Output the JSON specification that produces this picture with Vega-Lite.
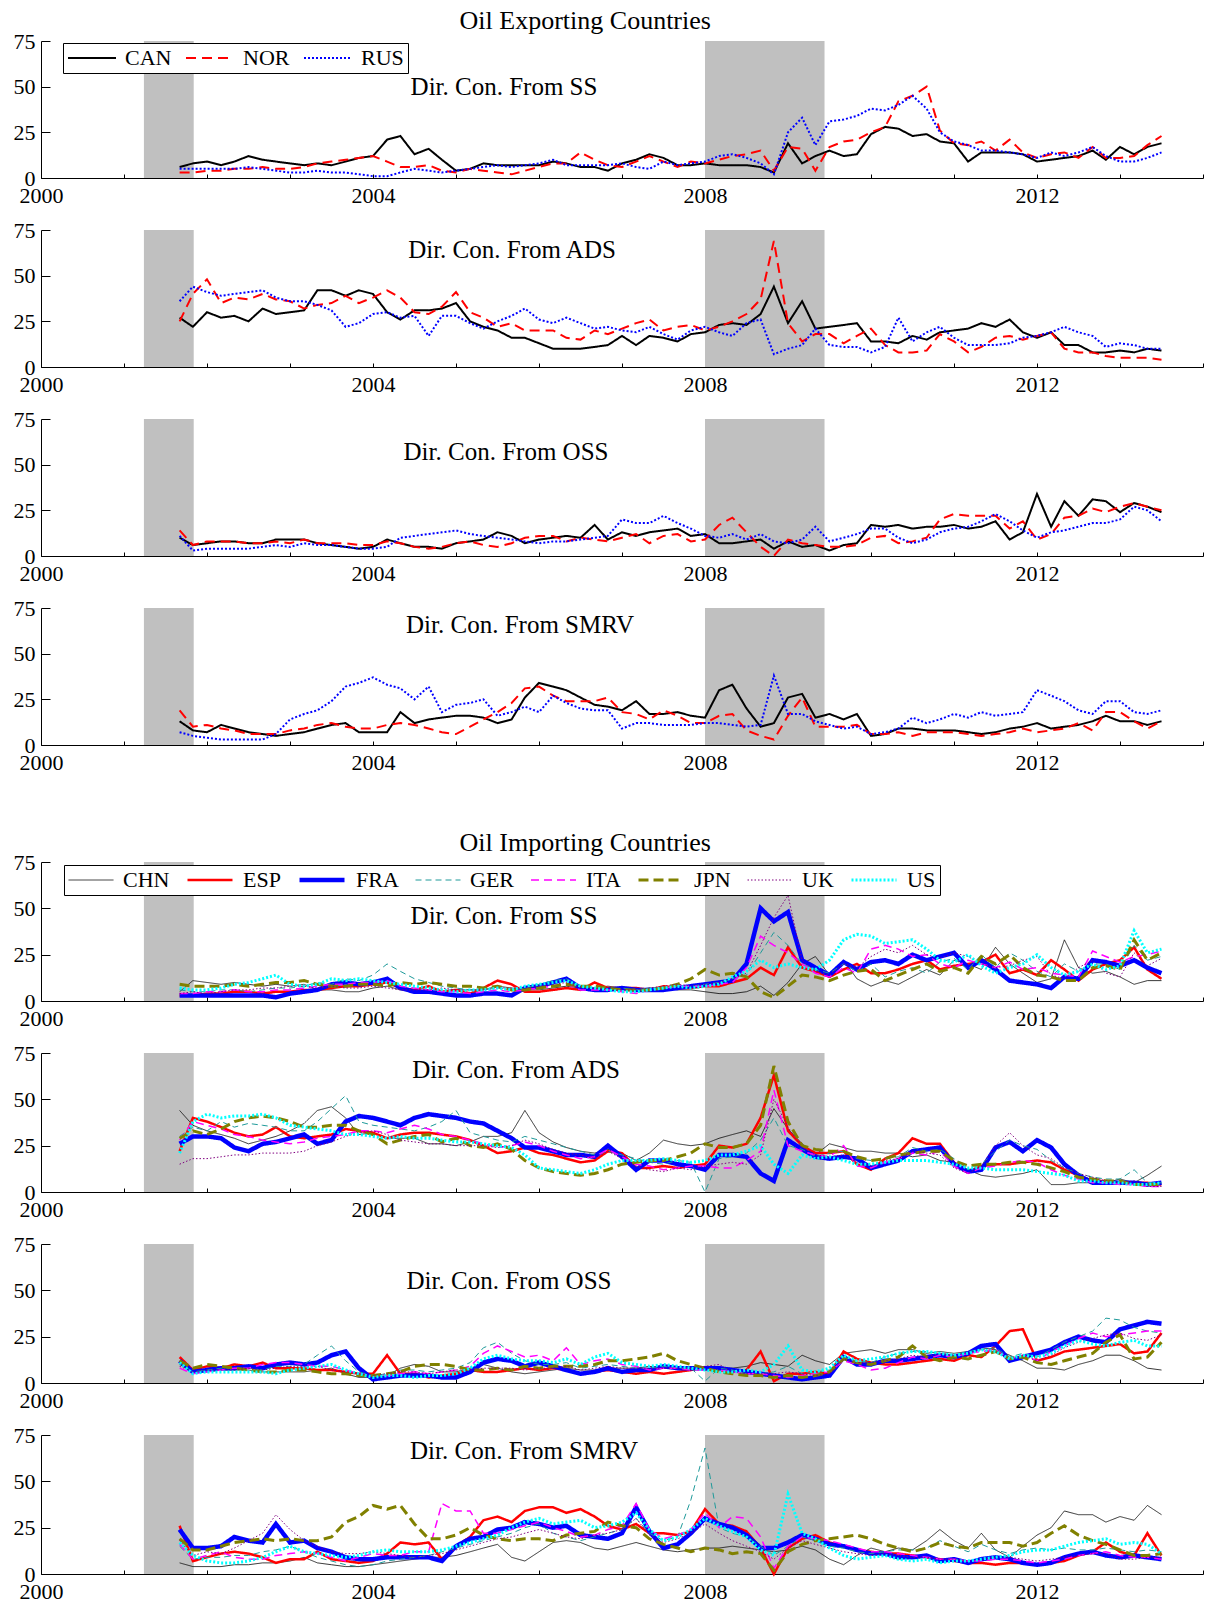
{
"$schema": "https://vega.github.io/schema/vega-lite/v6.json",
"padding": {"left": 13, "top": 8, "right": 2, "bottom": 4},
"config": {
 "font": "Liberation Serif",
 "view": {"stroke": null},
 "axis": {"grid": false, "title": null, "domainColor": "black", "tickColor": "black", "labelColor": "black", "labelFont": "Liberation Serif", "labelFontSize": 22, "domainWidth": 1, "tickWidth": 1, "labelOverlap": false},
 "axisX": {"tickSize": -4, "labelPadding": 11, "labelFlush": false},
 "axisY": {"tickSize": -9, "labelPadding": 15},
 "title": {"font": "Liberation Serif", "fontSize": 25, "fontWeight": "normal", "color": "black"},
 "legend": {"labelFont": "Liberation Serif", "labelColor": "black"}
},
"datasets": {
 "rec": [{"b": 2001.24, "e": 2001.84}, {"b": 2008.0, "e": 2009.44}],
 "eSS": [
{"t":2001.67,"CAN":6,"NOR":3,"RUS":5},{"t":2001.83,"CAN":8,"NOR":3,"RUS":5},{"t":2002,"CAN":9,"NOR":4,"RUS":5},{"t":2002.17,"CAN":7,"NOR":4,"RUS":5},{"t":2002.33,"CAN":9,"NOR":5,"RUS":5},{"t":2002.5,"CAN":12,"NOR":5,"RUS":6},{"t":2002.67,"CAN":10,"NOR":6,"RUS":5},{"t":2002.83,"CAN":9,"NOR":5,"RUS":4},{"t":2003,"CAN":8,"NOR":5,"RUS":3},{"t":2003.17,"CAN":7,"NOR":6,"RUS":3},{"t":2003.33,"CAN":8,"NOR":8,"RUS":4},{"t":2003.5,"CAN":7,"NOR":9,"RUS":3},{"t":2003.67,"CAN":9,"NOR":10,"RUS":3},{"t":2003.83,"CAN":11,"NOR":11,"RUS":2},{"t":2004,"CAN":12,"NOR":12,"RUS":1},{"t":2004.17,"CAN":21,"NOR":9,"RUS":1},{"t":2004.33,"CAN":23,"NOR":6,"RUS":3},{"t":2004.5,"CAN":13,"NOR":6,"RUS":5},{"t":2004.67,"CAN":16,"NOR":7,"RUS":4},{"t":2004.83,"CAN":10,"NOR":4,"RUS":3},{"t":2005,"CAN":4,"NOR":3,"RUS":4},{"t":2005.17,"CAN":5,"NOR":5,"RUS":5},{"t":2005.33,"CAN":8,"NOR":4,"RUS":6},{"t":2005.5,"CAN":7,"NOR":3,"RUS":7},{"t":2005.67,"CAN":7,"NOR":2,"RUS":6},{"t":2005.83,"CAN":7,"NOR":4,"RUS":7},{"t":2006,"CAN":7,"NOR":6,"RUS":8},{"t":2006.17,"CAN":9,"NOR":8,"RUS":10},{"t":2006.33,"CAN":8,"NOR":8,"RUS":7},{"t":2006.5,"CAN":6,"NOR":14,"RUS":7},{"t":2006.67,"CAN":6,"NOR":10,"RUS":7},{"t":2006.83,"CAN":4,"NOR":7,"RUS":7},{"t":2007,"CAN":8,"NOR":6,"RUS":8},{"t":2007.17,"CAN":10,"NOR":9,"RUS":6},{"t":2007.33,"CAN":13,"NOR":12,"RUS":5},{"t":2007.5,"CAN":11,"NOR":9,"RUS":9},{"t":2007.67,"CAN":7,"NOR":6,"RUS":7},{"t":2007.83,"CAN":7,"NOR":9,"RUS":8},{"t":2008,"CAN":8,"NOR":8,"RUS":9},{"t":2008.17,"CAN":7,"NOR":10,"RUS":12},{"t":2008.33,"CAN":7,"NOR":12,"RUS":13},{"t":2008.5,"CAN":7,"NOR":13,"RUS":11},{"t":2008.67,"CAN":6,"NOR":15,"RUS":8},{"t":2008.83,"CAN":3,"NOR":4,"RUS":2},{"t":2009,"CAN":19,"NOR":17,"RUS":25},{"t":2009.17,"CAN":8,"NOR":16,"RUS":33},{"t":2009.33,"CAN":12,"NOR":4,"RUS":18},{"t":2009.5,"CAN":15,"NOR":17,"RUS":31},{"t":2009.67,"CAN":12,"NOR":20,"RUS":32},{"t":2009.83,"CAN":13,"NOR":21,"RUS":34},{"t":2010,"CAN":24,"NOR":25,"RUS":38},{"t":2010.17,"CAN":28,"NOR":28,"RUS":37},{"t":2010.33,"CAN":27,"NOR":42,"RUS":40},{"t":2010.5,"CAN":23,"NOR":45,"RUS":45},{"t":2010.67,"CAN":24,"NOR":50,"RUS":38},{"t":2010.83,"CAN":20,"NOR":26,"RUS":25},{"t":2011,"CAN":19,"NOR":19,"RUS":20},{"t":2011.17,"CAN":9,"NOR":18,"RUS":18},{"t":2011.33,"CAN":14,"NOR":20,"RUS":15},{"t":2011.5,"CAN":14,"NOR":15,"RUS":15},{"t":2011.67,"CAN":14,"NOR":21,"RUS":14},{"t":2011.83,"CAN":13,"NOR":14,"RUS":13},{"t":2012,"CAN":9,"NOR":11,"RUS":11},{"t":2012.17,"CAN":10,"NOR":13,"RUS":14},{"t":2012.33,"CAN":11,"NOR":14,"RUS":12},{"t":2012.5,"CAN":12,"NOR":11,"RUS":14},{"t":2012.67,"CAN":15,"NOR":17,"RUS":17},{"t":2012.83,"CAN":10,"NOR":11,"RUS":12},{"t":2013,"CAN":17,"NOR":11,"RUS":9},{"t":2013.17,"CAN":13,"NOR":12,"RUS":9},{"t":2013.33,"CAN":17,"NOR":18,"RUS":11},{"t":2013.5,"CAN":19,"NOR":23,"RUS":14}
 ],
 "eADS": [
{"t":2001.67,"CAN":27,"NOR":25,"RUS":36},{"t":2001.83,"CAN":22,"NOR":40,"RUS":44},{"t":2002,"CAN":30,"NOR":48,"RUS":41},{"t":2002.17,"CAN":27,"NOR":35,"RUS":39},{"t":2002.33,"CAN":28,"NOR":38,"RUS":40},{"t":2002.5,"CAN":25,"NOR":37,"RUS":41},{"t":2002.67,"CAN":32,"NOR":40,"RUS":42},{"t":2002.83,"CAN":29,"NOR":37,"RUS":38},{"t":2003,"CAN":30,"NOR":36,"RUS":36},{"t":2003.17,"CAN":31,"NOR":32,"RUS":36},{"t":2003.33,"CAN":42,"NOR":34,"RUS":34},{"t":2003.5,"CAN":42,"NOR":35,"RUS":31},{"t":2003.67,"CAN":39,"NOR":39,"RUS":22},{"t":2003.83,"CAN":42,"NOR":35,"RUS":24},{"t":2004,"CAN":40,"NOR":38,"RUS":29},{"t":2004.17,"CAN":30,"NOR":42,"RUS":30},{"t":2004.33,"CAN":26,"NOR":38,"RUS":27},{"t":2004.5,"CAN":31,"NOR":30,"RUS":28},{"t":2004.67,"CAN":31,"NOR":29,"RUS":17},{"t":2004.83,"CAN":32,"NOR":33,"RUS":28},{"t":2005,"CAN":35,"NOR":41,"RUS":28},{"t":2005.17,"CAN":25,"NOR":30,"RUS":24},{"t":2005.33,"CAN":22,"NOR":27,"RUS":21},{"t":2005.5,"CAN":20,"NOR":22,"RUS":25},{"t":2005.67,"CAN":16,"NOR":24,"RUS":28},{"t":2005.83,"CAN":16,"NOR":20,"RUS":32},{"t":2006,"CAN":13,"NOR":20,"RUS":26},{"t":2006.17,"CAN":10,"NOR":20,"RUS":24},{"t":2006.33,"CAN":10,"NOR":16,"RUS":27},{"t":2006.5,"CAN":10,"NOR":15,"RUS":24},{"t":2006.67,"CAN":11,"NOR":20,"RUS":21},{"t":2006.83,"CAN":12,"NOR":18,"RUS":22},{"t":2007,"CAN":17,"NOR":21,"RUS":20},{"t":2007.17,"CAN":12,"NOR":24,"RUS":19},{"t":2007.33,"CAN":17,"NOR":26,"RUS":22},{"t":2007.5,"CAN":16,"NOR":20,"RUS":18},{"t":2007.67,"CAN":14,"NOR":22,"RUS":15},{"t":2007.83,"CAN":18,"NOR":23,"RUS":20},{"t":2008,"CAN":19,"NOR":20,"RUS":22},{"t":2008.17,"CAN":23,"NOR":22,"RUS":19},{"t":2008.33,"CAN":24,"NOR":25,"RUS":17},{"t":2008.5,"CAN":23,"NOR":29,"RUS":24},{"t":2008.67,"CAN":29,"NOR":37,"RUS":26},{"t":2008.83,"CAN":44,"NOR":69,"RUS":7},{"t":2009,"CAN":24,"NOR":24,"RUS":10},{"t":2009.17,"CAN":36,"NOR":14,"RUS":12},{"t":2009.33,"CAN":21,"NOR":18,"RUS":21},{"t":2009.5,"CAN":22,"NOR":18,"RUS":12},{"t":2009.67,"CAN":23,"NOR":13,"RUS":11},{"t":2009.83,"CAN":24,"NOR":17,"RUS":11},{"t":2010,"CAN":14,"NOR":21,"RUS":8},{"t":2010.17,"CAN":14,"NOR":12,"RUS":11},{"t":2010.33,"CAN":13,"NOR":8,"RUS":27},{"t":2010.5,"CAN":17,"NOR":8,"RUS":14},{"t":2010.67,"CAN":15,"NOR":9,"RUS":19},{"t":2010.83,"CAN":19,"NOR":18,"RUS":22},{"t":2011,"CAN":20,"NOR":14,"RUS":16},{"t":2011.17,"CAN":21,"NOR":8,"RUS":12},{"t":2011.33,"CAN":24,"NOR":11,"RUS":12},{"t":2011.5,"CAN":22,"NOR":16,"RUS":12},{"t":2011.67,"CAN":26,"NOR":17,"RUS":13},{"t":2011.83,"CAN":19,"NOR":15,"RUS":16},{"t":2012,"CAN":16,"NOR":17,"RUS":17},{"t":2012.17,"CAN":19,"NOR":19,"RUS":19},{"t":2012.33,"CAN":12,"NOR":10,"RUS":22},{"t":2012.5,"CAN":12,"NOR":8,"RUS":19},{"t":2012.67,"CAN":8,"NOR":8,"RUS":17},{"t":2012.83,"CAN":8,"NOR":6,"RUS":11},{"t":2013,"CAN":9,"NOR":5,"RUS":13},{"t":2013.17,"CAN":8,"NOR":5,"RUS":12},{"t":2013.33,"CAN":10,"NOR":5,"RUS":10},{"t":2013.5,"CAN":9,"NOR":4,"RUS":10}
 ],
 "eOSS": [
{"t":2001.67,"CAN":10,"NOR":14,"RUS":11},{"t":2001.83,"CAN":6,"NOR":6,"RUS":3},{"t":2002,"CAN":7,"NOR":8,"RUS":4},{"t":2002.17,"CAN":8,"NOR":8,"RUS":4},{"t":2002.33,"CAN":8,"NOR":8,"RUS":4},{"t":2002.5,"CAN":7,"NOR":7,"RUS":4},{"t":2002.67,"CAN":7,"NOR":7,"RUS":5},{"t":2002.83,"CAN":9,"NOR":8,"RUS":6},{"t":2003,"CAN":9,"NOR":7,"RUS":5},{"t":2003.17,"CAN":9,"NOR":9,"RUS":7},{"t":2003.33,"CAN":7,"NOR":7,"RUS":6},{"t":2003.5,"CAN":6,"NOR":7,"RUS":6},{"t":2003.67,"CAN":5,"NOR":7,"RUS":5},{"t":2003.83,"CAN":4,"NOR":6,"RUS":4},{"t":2004,"CAN":5,"NOR":6,"RUS":4},{"t":2004.17,"CAN":9,"NOR":8,"RUS":5},{"t":2004.33,"CAN":7,"NOR":7,"RUS":10},{"t":2004.5,"CAN":5,"NOR":5,"RUS":11},{"t":2004.67,"CAN":5,"NOR":4,"RUS":12},{"t":2004.83,"CAN":4,"NOR":5,"RUS":13},{"t":2005,"CAN":7,"NOR":7,"RUS":14},{"t":2005.17,"CAN":8,"NOR":8,"RUS":12},{"t":2005.33,"CAN":9,"NOR":6,"RUS":11},{"t":2005.5,"CAN":13,"NOR":5,"RUS":10},{"t":2005.67,"CAN":11,"NOR":7,"RUS":9},{"t":2005.83,"CAN":7,"NOR":10,"RUS":8},{"t":2006,"CAN":9,"NOR":11,"RUS":7},{"t":2006.17,"CAN":10,"NOR":11,"RUS":8},{"t":2006.33,"CAN":11,"NOR":8,"RUS":8},{"t":2006.5,"CAN":10,"NOR":10,"RUS":9},{"t":2006.67,"CAN":17,"NOR":9,"RUS":10},{"t":2006.83,"CAN":9,"NOR":8,"RUS":11},{"t":2007,"CAN":13,"NOR":10,"RUS":20},{"t":2007.17,"CAN":11,"NOR":12,"RUS":18},{"t":2007.33,"CAN":13,"NOR":7,"RUS":18},{"t":2007.5,"CAN":14,"NOR":11,"RUS":22},{"t":2007.67,"CAN":15,"NOR":12,"RUS":18},{"t":2007.83,"CAN":11,"NOR":8,"RUS":15},{"t":2008,"CAN":12,"NOR":9,"RUS":11},{"t":2008.17,"CAN":7,"NOR":17,"RUS":10},{"t":2008.33,"CAN":7,"NOR":21,"RUS":12},{"t":2008.5,"CAN":8,"NOR":13,"RUS":9},{"t":2008.67,"CAN":9,"NOR":5,"RUS":12},{"t":2008.83,"CAN":4,"NOR":0,"RUS":8},{"t":2009,"CAN":8,"NOR":9,"RUS":7},{"t":2009.17,"CAN":5,"NOR":7,"RUS":9},{"t":2009.33,"CAN":6,"NOR":6,"RUS":16},{"t":2009.5,"CAN":3,"NOR":5,"RUS":8},{"t":2009.67,"CAN":6,"NOR":5,"RUS":10},{"t":2009.83,"CAN":7,"NOR":6,"RUS":12},{"t":2010,"CAN":17,"NOR":10,"RUS":15},{"t":2010.17,"CAN":16,"NOR":11,"RUS":15},{"t":2010.33,"CAN":17,"NOR":7,"RUS":10},{"t":2010.5,"CAN":15,"NOR":8,"RUS":7},{"t":2010.67,"CAN":16,"NOR":10,"RUS":9},{"t":2010.83,"CAN":16,"NOR":20,"RUS":13},{"t":2011,"CAN":17,"NOR":23,"RUS":15},{"t":2011.17,"CAN":15,"NOR":22,"RUS":16},{"t":2011.33,"CAN":16,"NOR":22,"RUS":19},{"t":2011.5,"CAN":19,"NOR":22,"RUS":23},{"t":2011.67,"CAN":9,"NOR":15,"RUS":19},{"t":2011.83,"CAN":13,"NOR":19,"RUS":14},{"t":2012,"CAN":34,"NOR":9,"RUS":10},{"t":2012.17,"CAN":16,"NOR":12,"RUS":13},{"t":2012.33,"CAN":30,"NOR":21,"RUS":14},{"t":2012.5,"CAN":22,"NOR":22,"RUS":16},{"t":2012.67,"CAN":31,"NOR":26,"RUS":18},{"t":2012.83,"CAN":30,"NOR":24,"RUS":18},{"t":2013,"CAN":24,"NOR":27,"RUS":20},{"t":2013.17,"CAN":29,"NOR":29,"RUS":27},{"t":2013.33,"CAN":27,"NOR":27,"RUS":25},{"t":2013.5,"CAN":24,"NOR":25,"RUS":19}
 ],
 "eSMRV": [
{"t":2001.67,"CAN":13,"NOR":19,"RUS":7},{"t":2001.83,"CAN":8,"NOR":10,"RUS":5},{"t":2002,"CAN":7,"NOR":11,"RUS":4},{"t":2002.17,"CAN":11,"NOR":9,"RUS":3},{"t":2002.33,"CAN":9,"NOR":8,"RUS":3},{"t":2002.5,"CAN":7,"NOR":6,"RUS":3},{"t":2002.67,"CAN":6,"NOR":6,"RUS":3},{"t":2002.83,"CAN":5,"NOR":6,"RUS":6},{"t":2003,"CAN":6,"NOR":8,"RUS":14},{"t":2003.17,"CAN":7,"NOR":9,"RUS":17},{"t":2003.33,"CAN":9,"NOR":11,"RUS":19},{"t":2003.5,"CAN":11,"NOR":12,"RUS":24},{"t":2003.67,"CAN":12,"NOR":10,"RUS":32},{"t":2003.83,"CAN":7,"NOR":9,"RUS":34},{"t":2004,"CAN":7,"NOR":9,"RUS":37},{"t":2004.17,"CAN":7,"NOR":11,"RUS":33},{"t":2004.33,"CAN":18,"NOR":12,"RUS":31},{"t":2004.5,"CAN":12,"NOR":11,"RUS":25},{"t":2004.67,"CAN":14,"NOR":9,"RUS":32},{"t":2004.83,"CAN":15,"NOR":7,"RUS":18},{"t":2005,"CAN":16,"NOR":6,"RUS":22},{"t":2005.17,"CAN":16,"NOR":10,"RUS":23},{"t":2005.33,"CAN":15,"NOR":14,"RUS":25},{"t":2005.5,"CAN":12,"NOR":18,"RUS":16},{"t":2005.67,"CAN":14,"NOR":23,"RUS":18},{"t":2005.83,"CAN":26,"NOR":31,"RUS":21},{"t":2006,"CAN":34,"NOR":32,"RUS":18},{"t":2006.17,"CAN":32,"NOR":27,"RUS":27},{"t":2006.33,"CAN":30,"NOR":24,"RUS":23},{"t":2006.5,"CAN":26,"NOR":24,"RUS":20},{"t":2006.67,"CAN":22,"NOR":24,"RUS":19},{"t":2006.83,"CAN":21,"NOR":26,"RUS":19},{"t":2007,"CAN":19,"NOR":18,"RUS":9},{"t":2007.17,"CAN":24,"NOR":17,"RUS":12},{"t":2007.33,"CAN":17,"NOR":14,"RUS":12},{"t":2007.5,"CAN":17,"NOR":19,"RUS":11},{"t":2007.67,"CAN":18,"NOR":16,"RUS":11},{"t":2007.83,"CAN":16,"NOR":12,"RUS":11},{"t":2008,"CAN":15,"NOR":12,"RUS":12},{"t":2008.17,"CAN":30,"NOR":16,"RUS":12},{"t":2008.33,"CAN":33,"NOR":17,"RUS":11},{"t":2008.5,"CAN":20,"NOR":8,"RUS":10},{"t":2008.67,"CAN":10,"NOR":5,"RUS":11},{"t":2008.83,"CAN":12,"NOR":3,"RUS":38},{"t":2009,"CAN":26,"NOR":16,"RUS":17},{"t":2009.17,"CAN":28,"NOR":26,"RUS":17},{"t":2009.33,"CAN":15,"NOR":10,"RUS":13},{"t":2009.5,"CAN":17,"NOR":10,"RUS":11},{"t":2009.67,"CAN":14,"NOR":10,"RUS":9},{"t":2009.83,"CAN":17,"NOR":11,"RUS":10},{"t":2010,"CAN":5,"NOR":6,"RUS":6},{"t":2010.17,"CAN":6,"NOR":6,"RUS":7},{"t":2010.33,"CAN":9,"NOR":7,"RUS":9},{"t":2010.5,"CAN":9,"NOR":5,"RUS":15},{"t":2010.67,"CAN":8,"NOR":7,"RUS":12},{"t":2010.83,"CAN":8,"NOR":7,"RUS":14},{"t":2011,"CAN":8,"NOR":7,"RUS":17},{"t":2011.17,"CAN":7,"NOR":6,"RUS":15},{"t":2011.33,"CAN":6,"NOR":5,"RUS":18},{"t":2011.5,"CAN":7,"NOR":6,"RUS":16},{"t":2011.67,"CAN":9,"NOR":7,"RUS":17},{"t":2011.83,"CAN":10,"NOR":9,"RUS":18},{"t":2012,"CAN":12,"NOR":7,"RUS":30},{"t":2012.17,"CAN":9,"NOR":8,"RUS":27},{"t":2012.33,"CAN":10,"NOR":9,"RUS":24},{"t":2012.5,"CAN":11,"NOR":12,"RUS":19},{"t":2012.67,"CAN":13,"NOR":8,"RUS":17},{"t":2012.83,"CAN":16,"NOR":18,"RUS":24},{"t":2013,"CAN":13,"NOR":18,"RUS":24},{"t":2013.17,"CAN":13,"NOR":13,"RUS":18},{"t":2013.33,"CAN":11,"NOR":9,"RUS":17},{"t":2013.5,"CAN":13,"NOR":13,"RUS":19}
 ],
 "iSS": [
{"t":2001.67,"CHN":5,"ESP":3,"FRA":3,"GER":6,"ITA":4,"JPN":9,"UK":4,"US":7},{"t":2001.83,"CHN":11,"ESP":3,"FRA":3,"GER":5,"ITA":4,"JPN":8,"UK":5,"US":6},{"t":2002,"CHN":10,"ESP":4,"FRA":3,"GER":5,"ITA":5,"JPN":8,"UK":4,"US":6},{"t":2002.17,"CHN":9,"ESP":4,"FRA":3,"GER":6,"ITA":5,"JPN":8,"UK":5,"US":7},{"t":2002.33,"CHN":10,"ESP":5,"FRA":3,"GER":6,"ITA":6,"JPN":9,"UK":6,"US":9},{"t":2002.5,"CHN":9,"ESP":5,"FRA":3,"GER":5,"ITA":5,"JPN":8,"UK":6,"US":10},{"t":2002.67,"CHN":8,"ESP":4,"FRA":3,"GER":6,"ITA":5,"JPN":9,"UK":7,"US":12},{"t":2002.83,"CHN":9,"ESP":5,"FRA":2,"GER":7,"ITA":6,"JPN":10,"UK":7,"US":14},{"t":2003,"CHN":8,"ESP":5,"FRA":4,"GER":7,"ITA":6,"JPN":10,"UK":8,"US":9},{"t":2003.17,"CHN":9,"ESP":6,"FRA":5,"GER":8,"ITA":7,"JPN":11,"UK":8,"US":8},{"t":2003.33,"CHN":6,"ESP":6,"FRA":6,"GER":10,"ITA":8,"JPN":9,"UK":7,"US":9},{"t":2003.5,"CHN":6,"ESP":7,"FRA":9,"GER":9,"ITA":9,"JPN":8,"UK":8,"US":12},{"t":2003.67,"CHN":5,"ESP":8,"FRA":10,"GER":12,"ITA":9,"JPN":8,"UK":7,"US":11},{"t":2003.83,"CHN":5,"ESP":8,"FRA":9,"GER":11,"ITA":10,"JPN":9,"UK":7,"US":12},{"t":2004,"CHN":7,"ESP":9,"FRA":10,"GER":14,"ITA":10,"JPN":9,"UK":8,"US":11},{"t":2004.17,"CHN":8,"ESP":10,"FRA":12,"GER":20,"ITA":11,"JPN":8,"UK":7,"US":10},{"t":2004.33,"CHN":6,"ESP":7,"FRA":7,"GER":16,"ITA":8,"JPN":10,"UK":6,"US":9},{"t":2004.5,"CHN":5,"ESP":6,"FRA":5,"GER":12,"ITA":7,"JPN":9,"UK":6,"US":8},{"t":2004.67,"CHN":5,"ESP":8,"FRA":5,"GER":10,"ITA":6,"JPN":10,"UK":6,"US":7},{"t":2004.83,"CHN":5,"ESP":5,"FRA":4,"GER":8,"ITA":5,"JPN":9,"UK":7,"US":6},{"t":2005,"CHN":6,"ESP":6,"FRA":3,"GER":7,"ITA":5,"JPN":8,"UK":6,"US":5},{"t":2005.17,"CHN":6,"ESP":4,"FRA":3,"GER":6,"ITA":4,"JPN":8,"UK":6,"US":6},{"t":2005.33,"CHN":6,"ESP":7,"FRA":4,"GER":6,"ITA":5,"JPN":7,"UK":6,"US":6},{"t":2005.5,"CHN":8,"ESP":11,"FRA":4,"GER":7,"ITA":6,"JPN":8,"UK":7,"US":7},{"t":2005.67,"CHN":7,"ESP":9,"FRA":3,"GER":6,"ITA":5,"JPN":6,"UK":7,"US":6},{"t":2005.83,"CHN":6,"ESP":5,"FRA":7,"GER":7,"ITA":6,"JPN":6,"UK":7,"US":8},{"t":2006,"CHN":6,"ESP":5,"FRA":8,"GER":9,"ITA":7,"JPN":7,"UK":8,"US":9},{"t":2006.17,"CHN":7,"ESP":6,"FRA":10,"GER":11,"ITA":8,"JPN":8,"UK":9,"US":10},{"t":2006.33,"CHN":8,"ESP":7,"FRA":12,"GER":12,"ITA":9,"JPN":9,"UK":10,"US":11},{"t":2006.5,"CHN":7,"ESP":6,"FRA":7,"GER":8,"ITA":6,"JPN":8,"UK":7,"US":8},{"t":2006.67,"CHN":7,"ESP":10,"FRA":6,"GER":7,"ITA":6,"JPN":8,"UK":7,"US":7},{"t":2006.83,"CHN":8,"ESP":7,"FRA":6,"GER":6,"ITA":6,"JPN":7,"UK":6,"US":6},{"t":2007,"CHN":7,"ESP":7,"FRA":7,"GER":7,"ITA":5,"JPN":6,"UK":6,"US":5},{"t":2007.17,"CHN":6,"ESP":7,"FRA":6,"GER":6,"ITA":4,"JPN":6,"UK":6,"US":5},{"t":2007.33,"CHN":7,"ESP":6,"FRA":6,"GER":7,"ITA":6,"JPN":6,"UK":7,"US":6},{"t":2007.5,"CHN":7,"ESP":8,"FRA":6,"GER":7,"ITA":7,"JPN":7,"UK":8,"US":7},{"t":2007.67,"CHN":6,"ESP":7,"FRA":7,"GER":8,"ITA":8,"JPN":9,"UK":9,"US":8},{"t":2007.83,"CHN":6,"ESP":7,"FRA":8,"GER":8,"ITA":8,"JPN":12,"UK":8,"US":7},{"t":2008,"CHN":5,"ESP":8,"FRA":9,"GER":9,"ITA":8,"JPN":17,"UK":9,"US":8},{"t":2008.17,"CHN":4,"ESP":8,"FRA":10,"GER":10,"ITA":9,"JPN":14,"UK":10,"US":9},{"t":2008.33,"CHN":4,"ESP":10,"FRA":11,"GER":12,"ITA":10,"JPN":15,"UK":12,"US":13},{"t":2008.5,"CHN":5,"ESP":12,"FRA":20,"GER":14,"ITA":18,"JPN":13,"UK":15,"US":16},{"t":2008.67,"CHN":8,"ESP":18,"FRA":50,"GER":26,"ITA":35,"JPN":5,"UK":30,"US":22},{"t":2008.83,"CHN":3,"ESP":14,"FRA":43,"GER":37,"ITA":30,"JPN":2,"UK":45,"US":18},{"t":2009,"CHN":10,"ESP":29,"FRA":48,"GER":30,"ITA":26,"JPN":8,"UK":57,"US":20},{"t":2009.17,"CHN":20,"ESP":18,"FRA":22,"GER":20,"ITA":20,"JPN":14,"UK":22,"US":18},{"t":2009.33,"CHN":24,"ESP":16,"FRA":18,"GER":17,"ITA":15,"JPN":13,"UK":16,"US":17},{"t":2009.5,"CHN":14,"ESP":13,"FRA":14,"GER":15,"ITA":13,"JPN":11,"UK":14,"US":22},{"t":2009.67,"CHN":22,"ESP":17,"FRA":21,"GER":20,"ITA":18,"JPN":14,"UK":20,"US":33},{"t":2009.83,"CHN":12,"ESP":20,"FRA":17,"GER":16,"ITA":15,"JPN":16,"UK":18,"US":36},{"t":2010,"CHN":8,"ESP":15,"FRA":21,"GER":20,"ITA":28,"JPN":17,"UK":24,"US":35},{"t":2010.17,"CHN":11,"ESP":15,"FRA":22,"GER":13,"ITA":30,"JPN":11,"UK":28,"US":31},{"t":2010.33,"CHN":9,"ESP":17,"FRA":20,"GER":16,"ITA":28,"JPN":14,"UK":26,"US":32},{"t":2010.5,"CHN":13,"ESP":20,"FRA":25,"GER":18,"ITA":24,"JPN":17,"UK":30,"US":33},{"t":2010.67,"CHN":17,"ESP":22,"FRA":22,"GER":15,"ITA":25,"JPN":20,"UK":25,"US":28},{"t":2010.83,"CHN":14,"ESP":17,"FRA":24,"GER":21,"ITA":20,"JPN":16,"UK":23,"US":22},{"t":2011,"CHN":22,"ESP":19,"FRA":26,"GER":23,"ITA":18,"JPN":18,"UK":26,"US":21},{"t":2011.17,"CHN":20,"ESP":20,"FRA":18,"GER":17,"ITA":22,"JPN":15,"UK":24,"US":25},{"t":2011.33,"CHN":17,"ESP":21,"FRA":22,"GER":25,"ITA":20,"JPN":24,"UK":20,"US":19},{"t":2011.5,"CHN":29,"ESP":25,"FRA":17,"GER":18,"ITA":18,"JPN":20,"UK":18,"US":15},{"t":2011.67,"CHN":20,"ESP":15,"FRA":11,"GER":26,"ITA":21,"JPN":25,"UK":19,"US":18},{"t":2011.83,"CHN":15,"ESP":17,"FRA":10,"GER":22,"ITA":17,"JPN":18,"UK":22,"US":20},{"t":2012,"CHN":10,"ESP":14,"FRA":9,"GER":16,"ITA":18,"JPN":14,"UK":24,"US":25},{"t":2012.17,"CHN":12,"ESP":22,"FRA":7,"GER":13,"ITA":15,"JPN":13,"UK":14,"US":18},{"t":2012.33,"CHN":33,"ESP":17,"FRA":13,"GER":20,"ITA":14,"JPN":11,"UK":12,"US":14},{"t":2012.5,"CHN":18,"ESP":11,"FRA":12,"GER":16,"ITA":13,"JPN":11,"UK":18,"US":16},{"t":2012.67,"CHN":15,"ESP":17,"FRA":22,"GER":20,"ITA":27,"JPN":18,"UK":22,"US":20},{"t":2012.83,"CHN":16,"ESP":20,"FRA":21,"GER":20,"ITA":24,"JPN":19,"UK":15,"US":17},{"t":2013,"CHN":13,"ESP":22,"FRA":19,"GER":17,"ITA":21,"JPN":17,"UK":13,"US":19},{"t":2013.17,"CHN":9,"ESP":29,"FRA":22,"GER":30,"ITA":24,"JPN":33,"UK":26,"US":38},{"t":2013.33,"CHN":11,"ESP":17,"FRA":18,"GER":22,"ITA":25,"JPN":22,"UK":19,"US":26},{"t":2013.5,"CHN":11,"ESP":12,"FRA":15,"GER":24,"ITA":27,"JPN":26,"UK":23,"US":28}
 ],
 "iADS": [
{"t":2001.67,"CHN":44,"ESP":22,"FRA":26,"GER":30,"ITA":28,"JPN":29,"UK":15,"US":21},{"t":2001.83,"CHN":36,"ESP":40,"FRA":30,"GER":35,"ITA":38,"JPN":33,"UK":18,"US":38},{"t":2002,"CHN":33,"ESP":38,"FRA":30,"GER":33,"ITA":36,"JPN":31,"UK":18,"US":42},{"t":2002.17,"CHN":31,"ESP":35,"FRA":29,"GER":38,"ITA":34,"JPN":34,"UK":19,"US":40},{"t":2002.33,"CHN":29,"ESP":32,"FRA":24,"GER":35,"ITA":31,"JPN":38,"UK":20,"US":41},{"t":2002.5,"CHN":26,"ESP":30,"FRA":22,"GER":37,"ITA":30,"JPN":40,"UK":20,"US":41},{"t":2002.67,"CHN":28,"ESP":31,"FRA":26,"GER":36,"ITA":28,"JPN":41,"UK":21,"US":42},{"t":2002.83,"CHN":30,"ESP":35,"FRA":27,"GER":35,"ITA":27,"JPN":40,"UK":21,"US":40},{"t":2003,"CHN":33,"ESP":30,"FRA":29,"GER":33,"ITA":26,"JPN":38,"UK":21,"US":36},{"t":2003.17,"CHN":37,"ESP":29,"FRA":31,"GER":33,"ITA":27,"JPN":35,"UK":22,"US":35},{"t":2003.33,"CHN":44,"ESP":30,"FRA":26,"GER":38,"ITA":29,"JPN":35,"UK":25,"US":34},{"t":2003.5,"CHN":46,"ESP":31,"FRA":28,"GER":45,"ITA":30,"JPN":36,"UK":27,"US":33},{"t":2003.67,"CHN":40,"ESP":34,"FRA":38,"GER":52,"ITA":31,"JPN":36,"UK":30,"US":31},{"t":2003.83,"CHN":31,"ESP":33,"FRA":41,"GER":38,"ITA":33,"JPN":33,"UK":32,"US":31},{"t":2004,"CHN":32,"ESP":32,"FRA":40,"GER":36,"ITA":33,"JPN":31,"UK":33,"US":30},{"t":2004.17,"CHN":29,"ESP":29,"FRA":38,"GER":35,"ITA":32,"JPN":26,"UK":31,"US":29},{"t":2004.33,"CHN":29,"ESP":31,"FRA":36,"GER":34,"ITA":34,"JPN":28,"UK":28,"US":30},{"t":2004.5,"CHN":29,"ESP":32,"FRA":40,"GER":33,"ITA":36,"JPN":30,"UK":27,"US":29},{"t":2004.67,"CHN":26,"ESP":32,"FRA":42,"GER":35,"ITA":34,"JPN":31,"UK":26,"US":29},{"t":2004.83,"CHN":26,"ESP":31,"FRA":41,"GER":38,"ITA":31,"JPN":27,"UK":26,"US":28},{"t":2005,"CHN":25,"ESP":30,"FRA":40,"GER":44,"ITA":30,"JPN":29,"UK":25,"US":27},{"t":2005.17,"CHN":27,"ESP":28,"FRA":38,"GER":32,"ITA":28,"JPN":25,"UK":25,"US":27},{"t":2005.33,"CHN":30,"ESP":25,"FRA":37,"GER":30,"ITA":26,"JPN":24,"UK":25,"US":26},{"t":2005.5,"CHN":30,"ESP":21,"FRA":33,"GER":28,"ITA":24,"JPN":26,"UK":24,"US":25},{"t":2005.67,"CHN":32,"ESP":22,"FRA":29,"GER":27,"ITA":25,"JPN":23,"UK":25,"US":24},{"t":2005.83,"CHN":44,"ESP":24,"FRA":24,"GER":30,"ITA":27,"JPN":17,"UK":28,"US":20},{"t":2006,"CHN":32,"ESP":21,"FRA":24,"GER":28,"ITA":25,"JPN":13,"UK":26,"US":13},{"t":2006.17,"CHN":27,"ESP":20,"FRA":22,"GER":26,"ITA":22,"JPN":11,"UK":23,"US":12},{"t":2006.33,"CHN":24,"ESP":18,"FRA":20,"GER":24,"ITA":20,"JPN":10,"UK":21,"US":11},{"t":2006.5,"CHN":22,"ESP":16,"FRA":20,"GER":22,"ITA":18,"JPN":9,"UK":20,"US":10},{"t":2006.67,"CHN":21,"ESP":17,"FRA":19,"GER":20,"ITA":19,"JPN":10,"UK":18,"US":12},{"t":2006.83,"CHN":23,"ESP":22,"FRA":25,"GER":22,"ITA":23,"JPN":12,"UK":22,"US":15},{"t":2007,"CHN":21,"ESP":21,"FRA":19,"GER":20,"ITA":19,"JPN":15,"UK":18,"US":17},{"t":2007.17,"CHN":17,"ESP":13,"FRA":12,"GER":18,"ITA":15,"JPN":16,"UK":14,"US":17},{"t":2007.33,"CHN":21,"ESP":13,"FRA":17,"GER":16,"ITA":14,"JPN":17,"UK":12,"US":17},{"t":2007.5,"CHN":28,"ESP":14,"FRA":17,"GER":15,"ITA":12,"JPN":17,"UK":11,"US":18},{"t":2007.67,"CHN":26,"ESP":13,"FRA":15,"GER":17,"ITA":13,"JPN":19,"UK":13,"US":17},{"t":2007.83,"CHN":25,"ESP":14,"FRA":14,"GER":16,"ITA":14,"JPN":21,"UK":12,"US":16},{"t":2008,"CHN":26,"ESP":15,"FRA":12,"GER":0,"ITA":14,"JPN":26,"UK":14,"US":17},{"t":2008.17,"CHN":29,"ESP":25,"FRA":20,"GER":18,"ITA":13,"JPN":24,"UK":15,"US":20},{"t":2008.33,"CHN":31,"ESP":24,"FRA":20,"GER":19,"ITA":13,"JPN":24,"UK":16,"US":20},{"t":2008.5,"CHN":33,"ESP":26,"FRA":19,"GER":21,"ITA":17,"JPN":26,"UK":15,"US":22},{"t":2008.67,"CHN":30,"ESP":40,"FRA":10,"GER":28,"ITA":22,"JPN":36,"UK":20,"US":25},{"t":2008.83,"CHN":45,"ESP":63,"FRA":6,"GER":40,"ITA":55,"JPN":68,"UK":50,"US":15},{"t":2009,"CHN":34,"ESP":33,"FRA":28,"GER":25,"ITA":25,"JPN":38,"UK":35,"US":10},{"t":2009.17,"CHN":26,"ESP":25,"FRA":23,"GER":23,"ITA":22,"JPN":25,"UK":24,"US":20},{"t":2009.33,"CHN":20,"ESP":21,"FRA":19,"GER":19,"ITA":20,"JPN":23,"UK":20,"US":18},{"t":2009.5,"CHN":26,"ESP":21,"FRA":18,"GER":21,"ITA":19,"JPN":22,"UK":19,"US":19},{"t":2009.67,"CHN":24,"ESP":22,"FRA":19,"GER":22,"ITA":25,"JPN":22,"UK":20,"US":17},{"t":2009.83,"CHN":22,"ESP":15,"FRA":18,"GER":18,"ITA":14,"JPN":19,"UK":16,"US":15},{"t":2010,"CHN":22,"ESP":12,"FRA":13,"GER":17,"ITA":13,"JPN":17,"UK":14,"US":15},{"t":2010.17,"CHN":21,"ESP":18,"FRA":15,"GER":18,"ITA":16,"JPN":18,"UK":17,"US":16},{"t":2010.33,"CHN":21,"ESP":21,"FRA":17,"GER":19,"ITA":18,"JPN":20,"UK":18,"US":17},{"t":2010.5,"CHN":19,"ESP":29,"FRA":22,"GER":24,"ITA":21,"JPN":21,"UK":22,"US":17},{"t":2010.67,"CHN":20,"ESP":26,"FRA":23,"GER":22,"ITA":20,"JPN":22,"UK":21,"US":17},{"t":2010.83,"CHN":17,"ESP":26,"FRA":24,"GER":23,"ITA":22,"JPN":22,"UK":20,"US":16},{"t":2011,"CHN":16,"ESP":16,"FRA":15,"GER":18,"ITA":14,"JPN":17,"UK":13,"US":15},{"t":2011.17,"CHN":12,"ESP":11,"FRA":11,"GER":12,"ITA":10,"JPN":14,"UK":10,"US":13},{"t":2011.33,"CHN":9,"ESP":14,"FRA":12,"GER":15,"ITA":13,"JPN":15,"UK":14,"US":13},{"t":2011.5,"CHN":8,"ESP":15,"FRA":24,"GER":22,"ITA":14,"JPN":15,"UK":25,"US":12},{"t":2011.67,"CHN":9,"ESP":15,"FRA":27,"GER":28,"ITA":16,"JPN":16,"UK":32,"US":12},{"t":2011.83,"CHN":10,"ESP":16,"FRA":22,"GER":25,"ITA":17,"JPN":16,"UK":25,"US":12},{"t":2012,"CHN":12,"ESP":17,"FRA":28,"GER":23,"ITA":16,"JPN":15,"UK":20,"US":11},{"t":2012.17,"CHN":4,"ESP":16,"FRA":24,"GER":17,"ITA":12,"JPN":13,"UK":18,"US":10},{"t":2012.33,"CHN":4,"ESP":12,"FRA":15,"GER":13,"ITA":9,"JPN":11,"UK":13,"US":9},{"t":2012.5,"CHN":5,"ESP":9,"FRA":9,"GER":10,"ITA":7,"JPN":8,"UK":10,"US":6},{"t":2012.67,"CHN":5,"ESP":6,"FRA":5,"GER":8,"ITA":5,"JPN":7,"UK":8,"US":6},{"t":2012.83,"CHN":5,"ESP":6,"FRA":5,"GER":7,"ITA":5,"JPN":6,"UK":6,"US":5},{"t":2013,"CHN":7,"ESP":5,"FRA":5,"GER":7,"ITA":4,"JPN":6,"UK":5,"US":5},{"t":2013.17,"CHN":5,"ESP":5,"FRA":5,"GER":12,"ITA":4,"JPN":4,"UK":6,"US":4},{"t":2013.33,"CHN":9,"ESP":5,"FRA":4,"GER":5,"ITA":3,"JPN":4,"UK":3,"US":4},{"t":2013.5,"CHN":14,"ESP":4,"FRA":5,"GER":5,"ITA":3,"JPN":4,"UK":3,"US":5}
 ],
 "iOSS": [
{"t":2001.67,"CHN":10,"ESP":14,"FRA":12,"GER":11,"ITA":8,"JPN":12,"UK":9,"US":11},{"t":2001.83,"CHN":6,"ESP":7,"FRA":6,"GER":6,"ITA":5,"JPN":8,"UK":6,"US":5},{"t":2002,"CHN":6,"ESP":9,"FRA":7,"GER":7,"ITA":6,"JPN":10,"UK":7,"US":6},{"t":2002.17,"CHN":7,"ESP":8,"FRA":8,"GER":8,"ITA":7,"JPN":9,"UK":7,"US":6},{"t":2002.33,"CHN":7,"ESP":10,"FRA":8,"GER":8,"ITA":8,"JPN":8,"UK":7,"US":6},{"t":2002.5,"CHN":7,"ESP":9,"FRA":9,"GER":8,"ITA":8,"JPN":7,"UK":8,"US":6},{"t":2002.67,"CHN":6,"ESP":11,"FRA":8,"GER":7,"ITA":10,"JPN":6,"UK":7,"US":6},{"t":2002.83,"CHN":6,"ESP":8,"FRA":10,"GER":9,"ITA":11,"JPN":6,"UK":8,"US":5},{"t":2003,"CHN":6,"ESP":8,"FRA":11,"GER":9,"ITA":11,"JPN":7,"UK":9,"US":7},{"t":2003.17,"CHN":6,"ESP":8,"FRA":10,"GER":10,"ITA":10,"JPN":7,"UK":9,"US":8},{"t":2003.33,"CHN":7,"ESP":7,"FRA":11,"GER":15,"ITA":9,"JPN":6,"UK":9,"US":9},{"t":2003.5,"CHN":8,"ESP":7,"FRA":15,"GER":20,"ITA":9,"JPN":5,"UK":7,"US":10},{"t":2003.67,"CHN":5,"ESP":6,"FRA":17,"GER":12,"ITA":7,"JPN":5,"UK":6,"US":7},{"t":2003.83,"CHN":3,"ESP":5,"FRA":8,"GER":6,"ITA":5,"JPN":4,"UK":5,"US":5},{"t":2004,"CHN":3,"ESP":5,"FRA":2,"GER":4,"ITA":4,"JPN":4,"UK":4,"US":3},{"t":2004.17,"CHN":4,"ESP":15,"FRA":3,"GER":5,"ITA":4,"JPN":5,"UK":5,"US":4},{"t":2004.33,"CHN":8,"ESP":5,"FRA":4,"GER":7,"ITA":5,"JPN":6,"UK":6,"US":4},{"t":2004.5,"CHN":10,"ESP":5,"FRA":4,"GER":7,"ITA":6,"JPN":9,"UK":6,"US":3},{"t":2004.67,"CHN":9,"ESP":3,"FRA":4,"GER":6,"ITA":5,"JPN":10,"UK":5,"US":4},{"t":2004.83,"CHN":6,"ESP":4,"FRA":3,"GER":7,"ITA":6,"JPN":10,"UK":6,"US":4},{"t":2005,"CHN":6,"ESP":5,"FRA":3,"GER":8,"ITA":7,"JPN":9,"UK":7,"US":5},{"t":2005.17,"CHN":8,"ESP":7,"FRA":6,"GER":11,"ITA":9,"JPN":7,"UK":7,"US":8},{"t":2005.33,"CHN":10,"ESP":6,"FRA":11,"GER":19,"ITA":16,"JPN":7,"UK":8,"US":13},{"t":2005.5,"CHN":8,"ESP":6,"FRA":13,"GER":22,"ITA":20,"JPN":8,"UK":8,"US":15},{"t":2005.67,"CHN":6,"ESP":7,"FRA":12,"GER":16,"ITA":17,"JPN":7,"UK":8,"US":13},{"t":2005.83,"CHN":5,"ESP":8,"FRA":9,"GER":12,"ITA":14,"JPN":9,"UK":7,"US":12},{"t":2006,"CHN":6,"ESP":7,"FRA":11,"GER":10,"ITA":15,"JPN":8,"UK":8,"US":12},{"t":2006.17,"CHN":7,"ESP":8,"FRA":9,"GER":10,"ITA":12,"JPN":9,"UK":8,"US":11},{"t":2006.33,"CHN":8,"ESP":7,"FRA":7,"GER":11,"ITA":19,"JPN":9,"UK":9,"US":13},{"t":2006.5,"CHN":7,"ESP":5,"FRA":5,"GER":8,"ITA":10,"JPN":9,"UK":7,"US":10},{"t":2006.67,"CHN":7,"ESP":6,"FRA":6,"GER":9,"ITA":12,"JPN":10,"UK":8,"US":14},{"t":2006.83,"CHN":8,"ESP":7,"FRA":8,"GER":10,"ITA":13,"JPN":12,"UK":9,"US":16},{"t":2007,"CHN":8,"ESP":6,"FRA":6,"GER":9,"ITA":10,"JPN":12,"UK":8,"US":11},{"t":2007.17,"CHN":8,"ESP":5,"FRA":7,"GER":8,"ITA":9,"JPN":13,"UK":8,"US":10},{"t":2007.33,"CHN":9,"ESP":6,"FRA":7,"GER":8,"ITA":7,"JPN":14,"UK":8,"US":9},{"t":2007.5,"CHN":8,"ESP":5,"FRA":9,"GER":9,"ITA":8,"JPN":16,"UK":8,"US":10},{"t":2007.67,"CHN":8,"ESP":6,"FRA":8,"GER":8,"ITA":8,"JPN":12,"UK":8,"US":9},{"t":2007.83,"CHN":8,"ESP":7,"FRA":8,"GER":8,"ITA":7,"JPN":10,"UK":8,"US":8},{"t":2008,"CHN":7,"ESP":8,"FRA":8,"GER":1,"ITA":7,"JPN":8,"UK":9,"US":7},{"t":2008.17,"CHN":8,"ESP":7,"FRA":8,"GER":8,"ITA":7,"JPN":6,"UK":10,"US":6},{"t":2008.33,"CHN":8,"ESP":6,"FRA":7,"GER":7,"ITA":6,"JPN":5,"UK":6,"US":6},{"t":2008.5,"CHN":9,"ESP":7,"FRA":6,"GER":5,"ITA":5,"JPN":4,"UK":5,"US":7},{"t":2008.67,"CHN":11,"ESP":17,"FRA":5,"GER":5,"ITA":5,"JPN":4,"UK":5,"US":6},{"t":2008.83,"CHN":10,"ESP":1,"FRA":4,"GER":6,"ITA":4,"JPN":3,"UK":5,"US":10},{"t":2009,"CHN":9,"ESP":5,"FRA":3,"GER":9,"ITA":3,"JPN":4,"UK":6,"US":20},{"t":2009.17,"CHN":15,"ESP":5,"FRA":2,"GER":5,"ITA":4,"JPN":3,"UK":5,"US":7},{"t":2009.33,"CHN":12,"ESP":6,"FRA":3,"GER":6,"ITA":5,"JPN":4,"UK":4,"US":6},{"t":2009.5,"CHN":10,"ESP":5,"FRA":4,"GER":7,"ITA":6,"JPN":6,"UK":5,"US":8},{"t":2009.67,"CHN":16,"ESP":17,"FRA":14,"GER":14,"ITA":12,"JPN":13,"UK":13,"US":15},{"t":2009.83,"CHN":17,"ESP":13,"FRA":10,"GER":12,"ITA":10,"JPN":11,"UK":11,"US":12},{"t":2010,"CHN":18,"ESP":11,"FRA":10,"GER":11,"ITA":7,"JPN":10,"UK":11,"US":13},{"t":2010.17,"CHN":16,"ESP":10,"FRA":12,"GER":14,"ITA":8,"JPN":12,"UK":12,"US":14},{"t":2010.33,"CHN":18,"ESP":10,"FRA":12,"GER":16,"ITA":11,"JPN":14,"UK":13,"US":16},{"t":2010.5,"CHN":18,"ESP":11,"FRA":13,"GER":17,"ITA":14,"JPN":20,"UK":15,"US":17},{"t":2010.67,"CHN":16,"ESP":12,"FRA":14,"GER":17,"ITA":13,"JPN":14,"UK":14,"US":17},{"t":2010.83,"CHN":17,"ESP":13,"FRA":15,"GER":16,"ITA":15,"JPN":12,"UK":16,"US":16},{"t":2011,"CHN":16,"ESP":12,"FRA":14,"GER":15,"ITA":14,"JPN":14,"UK":15,"US":15},{"t":2011.17,"CHN":17,"ESP":15,"FRA":16,"GER":17,"ITA":16,"JPN":13,"UK":16,"US":16},{"t":2011.33,"CHN":19,"ESP":14,"FRA":20,"GER":18,"ITA":17,"JPN":15,"UK":18,"US":18},{"t":2011.5,"CHN":18,"ESP":20,"FRA":21,"GER":19,"ITA":18,"JPN":17,"UK":17,"US":17},{"t":2011.67,"CHN":15,"ESP":28,"FRA":12,"GER":14,"ITA":13,"JPN":13,"UK":13,"US":13},{"t":2011.83,"CHN":12,"ESP":29,"FRA":14,"GER":16,"ITA":15,"JPN":14,"UK":15,"US":15},{"t":2012,"CHN":8,"ESP":12,"FRA":16,"GER":14,"ITA":12,"JPN":11,"UK":12,"US":14},{"t":2012.17,"CHN":8,"ESP":14,"FRA":18,"GER":18,"ITA":17,"JPN":10,"UK":15,"US":16},{"t":2012.33,"CHN":7,"ESP":17,"FRA":22,"GER":22,"ITA":20,"JPN":12,"UK":19,"US":20},{"t":2012.5,"CHN":10,"ESP":18,"FRA":25,"GER":25,"ITA":24,"JPN":14,"UK":22,"US":23},{"t":2012.67,"CHN":12,"ESP":19,"FRA":23,"GER":28,"ITA":27,"JPN":16,"UK":24,"US":21},{"t":2012.83,"CHN":15,"ESP":20,"FRA":22,"GER":35,"ITA":25,"JPN":22,"UK":26,"US":20},{"t":2013,"CHN":15,"ESP":21,"FRA":29,"GER":34,"ITA":26,"JPN":26,"UK":27,"US":22},{"t":2013.17,"CHN":12,"ESP":16,"FRA":31,"GER":30,"ITA":27,"JPN":13,"UK":24,"US":23},{"t":2013.33,"CHN":8,"ESP":17,"FRA":33,"GER":28,"ITA":28,"JPN":14,"UK":23,"US":20},{"t":2013.5,"CHN":7,"ESP":27,"FRA":32,"GER":27,"ITA":28,"JPN":22,"UK":26,"US":20}
 ],
 "iSMRV": [
{"t":2001.67,"CHN":6,"ESP":26,"FRA":24,"GER":15,"ITA":16,"JPN":19,"UK":18,"US":17},{"t":2001.83,"CHN":4,"ESP":7,"FRA":14,"GER":8,"ITA":8,"JPN":13,"UK":10,"US":10},{"t":2002,"CHN":4,"ESP":9,"FRA":14,"GER":9,"ITA":10,"JPN":13,"UK":12,"US":7},{"t":2002.17,"CHN":4,"ESP":11,"FRA":15,"GER":9,"ITA":12,"JPN":15,"UK":11,"US":6},{"t":2002.33,"CHN":5,"ESP":12,"FRA":20,"GER":10,"ITA":9,"JPN":17,"UK":14,"US":6},{"t":2002.5,"CHN":5,"ESP":11,"FRA":18,"GER":10,"ITA":8,"JPN":18,"UK":18,"US":7},{"t":2002.67,"CHN":6,"ESP":9,"FRA":17,"GER":12,"ITA":8,"JPN":19,"UK":22,"US":9},{"t":2002.83,"CHN":6,"ESP":6,"FRA":27,"GER":13,"ITA":10,"JPN":18,"UK":32,"US":12},{"t":2003,"CHN":7,"ESP":8,"FRA":17,"GER":15,"ITA":11,"JPN":19,"UK":24,"US":15},{"t":2003.17,"CHN":9,"ESP":8,"FRA":18,"GER":12,"ITA":12,"JPN":18,"UK":18,"US":12},{"t":2003.33,"CHN":6,"ESP":12,"FRA":14,"GER":9,"ITA":11,"JPN":18,"UK":15,"US":11},{"t":2003.5,"CHN":5,"ESP":8,"FRA":12,"GER":7,"ITA":9,"JPN":20,"UK":12,"US":10},{"t":2003.67,"CHN":4,"ESP":7,"FRA":9,"GER":5,"ITA":7,"JPN":28,"UK":11,"US":9},{"t":2003.83,"CHN":4,"ESP":6,"FRA":8,"GER":4,"ITA":9,"JPN":31,"UK":11,"US":10},{"t":2004,"CHN":5,"ESP":7,"FRA":8,"GER":5,"ITA":11,"JPN":37,"UK":12,"US":12},{"t":2004.17,"CHN":6,"ESP":11,"FRA":9,"GER":7,"ITA":10,"JPN":35,"UK":11,"US":13},{"t":2004.33,"CHN":7,"ESP":17,"FRA":9,"GER":8,"ITA":10,"JPN":37,"UK":10,"US":12},{"t":2004.5,"CHN":8,"ESP":16,"FRA":9,"GER":9,"ITA":12,"JPN":27,"UK":9,"US":12},{"t":2004.67,"CHN":9,"ESP":17,"FRA":9,"GER":10,"ITA":12,"JPN":19,"UK":10,"US":12},{"t":2004.83,"CHN":9,"ESP":8,"FRA":7,"GER":12,"ITA":38,"JPN":19,"UK":11,"US":13},{"t":2005,"CHN":10,"ESP":15,"FRA":15,"GER":14,"ITA":34,"JPN":21,"UK":13,"US":15},{"t":2005.17,"CHN":12,"ESP":20,"FRA":19,"GER":16,"ITA":34,"JPN":25,"UK":15,"US":17},{"t":2005.33,"CHN":14,"ESP":29,"FRA":20,"GER":18,"ITA":22,"JPN":21,"UK":17,"US":19},{"t":2005.5,"CHN":16,"ESP":31,"FRA":24,"GER":20,"ITA":22,"JPN":19,"UK":19,"US":21},{"t":2005.67,"CHN":9,"ESP":28,"FRA":25,"GER":22,"ITA":24,"JPN":18,"UK":20,"US":25},{"t":2005.83,"CHN":7,"ESP":34,"FRA":28,"GER":25,"ITA":26,"JPN":19,"UK":22,"US":28},{"t":2006,"CHN":12,"ESP":36,"FRA":27,"GER":27,"ITA":28,"JPN":19,"UK":24,"US":30},{"t":2006.17,"CHN":17,"ESP":36,"FRA":25,"GER":22,"ITA":25,"JPN":18,"UK":22,"US":27},{"t":2006.33,"CHN":18,"ESP":33,"FRA":26,"GER":20,"ITA":23,"JPN":21,"UK":20,"US":28},{"t":2006.5,"CHN":17,"ESP":35,"FRA":21,"GER":18,"ITA":20,"JPN":22,"UK":19,"US":29},{"t":2006.67,"CHN":14,"ESP":31,"FRA":20,"GER":20,"ITA":21,"JPN":23,"UK":21,"US":25},{"t":2006.83,"CHN":13,"ESP":26,"FRA":19,"GER":22,"ITA":24,"JPN":28,"UK":22,"US":26},{"t":2007,"CHN":15,"ESP":24,"FRA":22,"GER":24,"ITA":26,"JPN":26,"UK":24,"US":28},{"t":2007.17,"CHN":17,"ESP":27,"FRA":36,"GER":30,"ITA":38,"JPN":25,"UK":30,"US":33},{"t":2007.33,"CHN":15,"ESP":22,"FRA":23,"GER":22,"ITA":24,"JPN":19,"UK":21,"US":24},{"t":2007.5,"CHN":13,"ESP":22,"FRA":14,"GER":18,"ITA":19,"JPN":16,"UK":17,"US":18},{"t":2007.67,"CHN":12,"ESP":21,"FRA":16,"GER":20,"ITA":21,"JPN":14,"UK":19,"US":20},{"t":2007.83,"CHN":13,"ESP":23,"FRA":22,"GER":40,"ITA":24,"JPN":12,"UK":22,"US":24},{"t":2008,"CHN":14,"ESP":35,"FRA":30,"GER":68,"ITA":33,"JPN":14,"UK":27,"US":30},{"t":2008.17,"CHN":14,"ESP":27,"FRA":27,"GER":25,"ITA":25,"JPN":13,"UK":22,"US":26},{"t":2008.33,"CHN":15,"ESP":26,"FRA":25,"GER":22,"ITA":31,"JPN":11,"UK":18,"US":23},{"t":2008.5,"CHN":14,"ESP":23,"FRA":21,"GER":20,"ITA":30,"JPN":12,"UK":15,"US":20},{"t":2008.67,"CHN":13,"ESP":14,"FRA":14,"GER":15,"ITA":20,"JPN":11,"UK":12,"US":13},{"t":2008.83,"CHN":12,"ESP":0,"FRA":14,"GER":10,"ITA":3,"JPN":2,"UK":8,"US":10},{"t":2009,"CHN":13,"ESP":14,"FRA":17,"GER":15,"ITA":15,"JPN":12,"UK":14,"US":43},{"t":2009.17,"CHN":15,"ESP":19,"FRA":21,"GER":20,"ITA":20,"JPN":16,"UK":18,"US":22},{"t":2009.33,"CHN":13,"ESP":21,"FRA":19,"GER":18,"ITA":19,"JPN":18,"UK":16,"US":19},{"t":2009.5,"CHN":8,"ESP":17,"FRA":16,"GER":15,"ITA":18,"JPN":19,"UK":14,"US":14},{"t":2009.67,"CHN":5,"ESP":15,"FRA":15,"GER":14,"ITA":16,"JPN":20,"UK":12,"US":10},{"t":2009.83,"CHN":10,"ESP":13,"FRA":13,"GER":12,"ITA":14,"JPN":21,"UK":11,"US":8},{"t":2010,"CHN":14,"ESP":12,"FRA":11,"GER":11,"ITA":12,"JPN":19,"UK":10,"US":9},{"t":2010.17,"CHN":12,"ESP":11,"FRA":11,"GER":12,"ITA":12,"JPN":16,"UK":11,"US":10},{"t":2010.33,"CHN":14,"ESP":11,"FRA":9,"GER":13,"ITA":11,"JPN":14,"UK":10,"US":8},{"t":2010.5,"CHN":13,"ESP":10,"FRA":9,"GER":13,"ITA":10,"JPN":12,"UK":9,"US":7},{"t":2010.67,"CHN":18,"ESP":9,"FRA":10,"GER":14,"ITA":9,"JPN":14,"UK":9,"US":8},{"t":2010.83,"CHN":24,"ESP":8,"FRA":7,"GER":18,"ITA":8,"JPN":17,"UK":8,"US":6},{"t":2011,"CHN":18,"ESP":7,"FRA":8,"GER":15,"ITA":8,"JPN":15,"UK":8,"US":7},{"t":2011.17,"CHN":14,"ESP":6,"FRA":6,"GER":12,"ITA":7,"JPN":14,"UK":7,"US":7},{"t":2011.33,"CHN":22,"ESP":6,"FRA":8,"GER":16,"ITA":7,"JPN":17,"UK":8,"US":8},{"t":2011.5,"CHN":13,"ESP":5,"FRA":9,"GER":13,"ITA":8,"JPN":17,"UK":9,"US":9},{"t":2011.67,"CHN":9,"ESP":6,"FRA":8,"GER":11,"ITA":8,"JPN":17,"UK":9,"US":10},{"t":2011.83,"CHN":15,"ESP":6,"FRA":6,"GER":13,"ITA":7,"JPN":15,"UK":8,"US":12},{"t":2012,"CHN":21,"ESP":5,"FRA":5,"GER":14,"ITA":6,"JPN":17,"UK":7,"US":13},{"t":2012.17,"CHN":25,"ESP":6,"FRA":6,"GER":13,"ITA":7,"JPN":22,"UK":8,"US":13},{"t":2012.33,"CHN":34,"ESP":7,"FRA":9,"GER":14,"ITA":8,"JPN":26,"UK":9,"US":15},{"t":2012.5,"CHN":32,"ESP":10,"FRA":11,"GER":13,"ITA":10,"JPN":21,"UK":10,"US":17},{"t":2012.67,"CHN":32,"ESP":12,"FRA":12,"GER":13,"ITA":11,"JPN":18,"UK":11,"US":18},{"t":2012.83,"CHN":28,"ESP":17,"FRA":10,"GER":14,"ITA":12,"JPN":16,"UK":11,"US":19},{"t":2013,"CHN":31,"ESP":12,"FRA":9,"GER":13,"ITA":10,"JPN":13,"UK":8,"US":16},{"t":2013.17,"CHN":29,"ESP":10,"FRA":10,"GER":12,"ITA":9,"JPN":10,"UK":8,"US":17},{"t":2013.33,"CHN":37,"ESP":22,"FRA":9,"GER":13,"ITA":9,"JPN":10,"UK":9,"US":16},{"t":2013.5,"CHN":32,"ESP":10,"FRA":8,"GER":12,"ITA":8,"JPN":11,"UK":9,"US":11}
 ]
},
"spacing": 57,
"resolve": {"scale": {"color": "independent", "strokeDash": "independent", "strokeWidth": "independent"}},
"vconcat": [
 {
  "title": {"text": "Oil Exporting Countries", "dx": -23, "offset": -4, "anchor": "middle", "fontSize": 26},
  "spacing": 52, "bounds": "flush",
  "resolve": {"scale": {"color": "independent", "strokeDash": "independent"}, "legend": {"color": "independent", "strokeDash": "independent"}},
  "vconcat": [
   {"width": 1162, "height": 137,
    "title": {"text": "Dir. Con. From SS", "anchor": "middle", "frame": "group", "dx": -118, "offset": -70},
    "layer": [
     {"data": {"name": "rec"}, "mark": {"type": "rect", "color": "#c0c0c0"}, "encoding": {"x": {"field": "b", "type": "quantitative", "scale": {"domain": [2000, 2014], "nice": false, "zero": false}, "axis": {"values": [2000,2001,2002,2003,2004,2005,2006,2007,2008,2009,2010,2011,2012,2013,2014], "format": "d", "labelExpr": "datum.value % 4 === 0 ? datum.label : ''"}}, "x2": {"field": "e"}, "y": {"datum": 0, "type": "quantitative", "scale": {"domain": [0, 75], "nice": false}, "axis": {"values": [0,12.5,25,37.5,50,62.5,75], "labelExpr": "datum.value % 25 === 0 ? datum.label : ''"}}, "y2": {"datum": 75}}},
     {"data": {"name": "eSS"}, "transform": [{"fold": ["CAN","NOR","RUS"], "as": ["s","v"]}], "mark": {"type": "line", "strokeWidth": 2},
      "encoding": {"x": {"field": "t", "type": "quantitative"}, "y": {"field": "v", "type": "quantitative"},
       "color": {"field": "s", "type": "nominal", "scale": {"domain": ["CAN","NOR","RUS"], "range": ["#000000","#ff0000","#0000ff"]}, "legend": {"orient": "none", "legendX": 22, "legendY": 2, "direction": "horizontal", "title": null, "symbolType": "stroke", "symbolSize": 2300, "symbolStrokeWidth": 2, "clipHeight": 22, "labelFontSize": 22, "labelOffset": 8, "columnPadding": 13, "padding": 4, "fillColor": "white", "strokeColor": "black"}},
       "strokeDash": {"field": "s", "type": "nominal", "scale": {"domain": ["CAN","NOR","RUS"], "range": [[1,0],[10,6],[2,2]]}}}}
    ]},
   {"width": 1162, "height": 137,
    "title": {"text": "Dir. Con. From ADS", "anchor": "middle", "frame": "group", "dx": -110, "offset": -44},
    "layer": [
     {"data": {"name": "rec"}, "mark": {"type": "rect", "color": "#c0c0c0"}, "encoding": {"x": {"field": "b", "type": "quantitative", "scale": {"domain": [2000, 2014], "nice": false, "zero": false}, "axis": {"values": [2000,2001,2002,2003,2004,2005,2006,2007,2008,2009,2010,2011,2012,2013,2014], "format": "d", "labelExpr": "datum.value % 4 === 0 ? datum.label : ''"}}, "x2": {"field": "e"}, "y": {"datum": 0, "type": "quantitative", "scale": {"domain": [0, 75], "nice": false}, "axis": {"values": [0,12.5,25,37.5,50,62.5,75], "labelExpr": "datum.value % 25 === 0 ? datum.label : ''"}}, "y2": {"datum": 75}}},
     {"data": {"name": "eADS"}, "transform": [{"fold": ["CAN","NOR","RUS"], "as": ["s","v"]}], "mark": {"type": "line", "strokeWidth": 2},
      "encoding": {"x": {"field": "t", "type": "quantitative"}, "y": {"field": "v", "type": "quantitative"},
       "color": {"field": "s", "type": "nominal", "scale": {"domain": ["CAN","NOR","RUS"], "range": ["#000000","#ff0000","#0000ff"]}, "legend": null},
       "strokeDash": {"field": "s", "type": "nominal", "scale": {"domain": ["CAN","NOR","RUS"], "range": [[1,0],[10,6],[2,2]]}, "legend": null}}}
    ]},
   {"width": 1162, "height": 137,
    "title": {"text": "Dir. Con. From OSS", "anchor": "middle", "frame": "group", "dx": -116, "offset": -57},
    "layer": [
     {"data": {"name": "rec"}, "mark": {"type": "rect", "color": "#c0c0c0"}, "encoding": {"x": {"field": "b", "type": "quantitative", "scale": {"domain": [2000, 2014], "nice": false, "zero": false}, "axis": {"values": [2000,2001,2002,2003,2004,2005,2006,2007,2008,2009,2010,2011,2012,2013,2014], "format": "d", "labelExpr": "datum.value % 4 === 0 ? datum.label : ''"}}, "x2": {"field": "e"}, "y": {"datum": 0, "type": "quantitative", "scale": {"domain": [0, 75], "nice": false}, "axis": {"values": [0,12.5,25,37.5,50,62.5,75], "labelExpr": "datum.value % 25 === 0 ? datum.label : ''"}}, "y2": {"datum": 75}}},
     {"data": {"name": "eOSS"}, "transform": [{"fold": ["CAN","NOR","RUS"], "as": ["s","v"]}], "mark": {"type": "line", "strokeWidth": 2},
      "encoding": {"x": {"field": "t", "type": "quantitative"}, "y": {"field": "v", "type": "quantitative"},
       "color": {"field": "s", "type": "nominal", "scale": {"domain": ["CAN","NOR","RUS"], "range": ["#000000","#ff0000","#0000ff"]}, "legend": null},
       "strokeDash": {"field": "s", "type": "nominal", "scale": {"domain": ["CAN","NOR","RUS"], "range": [[1,0],[10,6],[2,2]]}, "legend": null}}}
    ]},
   {"width": 1162, "height": 137,
    "title": {"text": "Dir. Con. From SMRV", "anchor": "middle", "frame": "group", "dx": -102, "offset": -41},
    "layer": [
     {"data": {"name": "rec"}, "mark": {"type": "rect", "color": "#c0c0c0"}, "encoding": {"x": {"field": "b", "type": "quantitative", "scale": {"domain": [2000, 2014], "nice": false, "zero": false}, "axis": {"values": [2000,2001,2002,2003,2004,2005,2006,2007,2008,2009,2010,2011,2012,2013,2014], "format": "d", "labelExpr": "datum.value % 4 === 0 ? datum.label : ''"}}, "x2": {"field": "e"}, "y": {"datum": 0, "type": "quantitative", "scale": {"domain": [0, 75], "nice": false}, "axis": {"values": [0,12.5,25,37.5,50,62.5,75], "labelExpr": "datum.value % 25 === 0 ? datum.label : ''"}}, "y2": {"datum": 75}}},
     {"data": {"name": "eSMRV"}, "transform": [{"fold": ["CAN","NOR","RUS"], "as": ["s","v"]}], "mark": {"type": "line", "strokeWidth": 2},
      "encoding": {"x": {"field": "t", "type": "quantitative"}, "y": {"field": "v", "type": "quantitative"},
       "color": {"field": "s", "type": "nominal", "scale": {"domain": ["CAN","NOR","RUS"], "range": ["#000000","#ff0000","#0000ff"]}, "legend": null},
       "strokeDash": {"field": "s", "type": "nominal", "scale": {"domain": ["CAN","NOR","RUS"], "range": [[1,0],[10,6],[2,2]]}, "legend": null}}}
    ]}
  ]
 },
 {
  "title": {"text": "Oil Importing Countries", "dx": -23, "offset": -5, "anchor": "middle", "fontSize": 26},
  "spacing": 52, "bounds": "flush",
  "resolve": {"scale": {"color": "independent", "strokeDash": "independent", "strokeWidth": "independent"}, "legend": {"color": "independent", "strokeDash": "independent", "strokeWidth": "independent"}},
  "vconcat": [
   {"width": 1162, "height": 139,
    "title": {"text": "Dir. Con. From SS", "anchor": "middle", "frame": "group", "dx": -118, "offset": -78},
    "layer": [
     {"data": {"name": "rec"}, "mark": {"type": "rect", "color": "#c0c0c0"}, "encoding": {"x": {"field": "b", "type": "quantitative", "scale": {"domain": [2000, 2014], "nice": false, "zero": false}, "axis": {"values": [2000,2001,2002,2003,2004,2005,2006,2007,2008,2009,2010,2011,2012,2013,2014], "format": "d", "labelExpr": "datum.value % 4 === 0 ? datum.label : ''"}}, "x2": {"field": "e"}, "y": {"datum": 0, "type": "quantitative", "scale": {"domain": [0, 75], "nice": false}, "axis": {"values": [0,12.5,25,37.5,50,62.5,75], "labelExpr": "datum.value % 25 === 0 ? datum.label : ''"}}, "y2": {"datum": 75}}},
     {"data": {"name": "iSS"}, "transform": [{"fold": ["CHN","ESP","FRA","GER","ITA","JPN","UK","US"], "as": ["s","v"]}], "mark": {"type": "line"},
      "encoding": {"x": {"field": "t", "type": "quantitative"}, "y": {"field": "v", "type": "quantitative"},
       "color": {"field": "s", "type": "nominal", "scale": {"domain": ["CHN","ESP","FRA","GER","ITA","JPN","UK","US"], "range": ["#000000","#ff0000","#0000ff","#1f9a9a","#ff00ff","#808000","#800080","#00ffff"]}, "legend": {"orient": "none", "legendX": 23, "legendY": 3, "direction": "horizontal", "title": null, "symbolType": "stroke", "symbolSize": 2025, "clipHeight": 22, "labelFontSize": 22, "labelOffset": 9, "columnPadding": 16, "padding": 4, "fillColor": "white", "strokeColor": "black"}},
       "strokeDash": {"field": "s", "type": "nominal", "scale": {"domain": ["CHN","ESP","FRA","GER","ITA","JPN","UK","US"], "range": [[1,0],[1,0],[1,0],[6,4],[8,5],[10,5],[1.5,2],[2,2]]}},
       "strokeWidth": {"field": "s", "type": "nominal", "scale": {"type": "ordinal", "domain": ["CHN","ESP","FRA","GER","ITA","JPN","UK","US"], "range": [0.8,2.5,4.5,1,1.5,3,1,3]}}}}
    ]},
   {"width": 1162, "height": 139,
    "title": {"text": "Dir. Con. From ADS", "anchor": "middle", "frame": "group", "dx": -106, "offset": -41},
    "layer": [
     {"data": {"name": "rec"}, "mark": {"type": "rect", "color": "#c0c0c0"}, "encoding": {"x": {"field": "b", "type": "quantitative", "scale": {"domain": [2000, 2014], "nice": false, "zero": false}, "axis": {"values": [2000,2001,2002,2003,2004,2005,2006,2007,2008,2009,2010,2011,2012,2013,2014], "format": "d", "labelExpr": "datum.value % 4 === 0 ? datum.label : ''"}}, "x2": {"field": "e"}, "y": {"datum": 0, "type": "quantitative", "scale": {"domain": [0, 75], "nice": false}, "axis": {"values": [0,12.5,25,37.5,50,62.5,75], "labelExpr": "datum.value % 25 === 0 ? datum.label : ''"}}, "y2": {"datum": 75}}},
     {"data": {"name": "iADS"}, "transform": [{"fold": ["CHN","ESP","FRA","GER","ITA","JPN","UK","US"], "as": ["s","v"]}], "mark": {"type": "line"},
      "encoding": {"x": {"field": "t", "type": "quantitative"}, "y": {"field": "v", "type": "quantitative"},
       "color": {"field": "s", "type": "nominal", "scale": {"domain": ["CHN","ESP","FRA","GER","ITA","JPN","UK","US"], "range": ["#000000","#ff0000","#0000ff","#1f9a9a","#ff00ff","#808000","#800080","#00ffff"]}, "legend": null},
       "strokeDash": {"field": "s", "type": "nominal", "scale": {"domain": ["CHN","ESP","FRA","GER","ITA","JPN","UK","US"], "range": [[1,0],[1,0],[1,0],[6,4],[8,5],[10,5],[1.5,2],[2,2]]}, "legend": null},
       "strokeWidth": {"field": "s", "type": "nominal", "scale": {"type": "ordinal", "domain": ["CHN","ESP","FRA","GER","ITA","JPN","UK","US"], "range": [0.8,2.5,4.5,1,1.5,3,1,3]}, "legend": null}}}
    ]},
   {"width": 1162, "height": 139,
    "title": {"text": "Dir. Con. From OSS", "anchor": "middle", "frame": "group", "dx": -113, "offset": -61},
    "layer": [
     {"data": {"name": "rec"}, "mark": {"type": "rect", "color": "#c0c0c0"}, "encoding": {"x": {"field": "b", "type": "quantitative", "scale": {"domain": [2000, 2014], "nice": false, "zero": false}, "axis": {"values": [2000,2001,2002,2003,2004,2005,2006,2007,2008,2009,2010,2011,2012,2013,2014], "format": "d", "labelExpr": "datum.value % 4 === 0 ? datum.label : ''"}}, "x2": {"field": "e"}, "y": {"datum": 0, "type": "quantitative", "scale": {"domain": [0, 75], "nice": false}, "axis": {"values": [0,12.5,25,37.5,50,62.5,75], "labelExpr": "datum.value % 25 === 0 ? datum.label : ''"}}, "y2": {"datum": 75}}},
     {"data": {"name": "iOSS"}, "transform": [{"fold": ["CHN","ESP","FRA","GER","ITA","JPN","UK","US"], "as": ["s","v"]}], "mark": {"type": "line"},
      "encoding": {"x": {"field": "t", "type": "quantitative"}, "y": {"field": "v", "type": "quantitative"},
       "color": {"field": "s", "type": "nominal", "scale": {"domain": ["CHN","ESP","FRA","GER","ITA","JPN","UK","US"], "range": ["#000000","#ff0000","#0000ff","#1f9a9a","#ff00ff","#808000","#800080","#00ffff"]}, "legend": null},
       "strokeDash": {"field": "s", "type": "nominal", "scale": {"domain": ["CHN","ESP","FRA","GER","ITA","JPN","UK","US"], "range": [[1,0],[1,0],[1,0],[6,4],[8,5],[10,5],[1.5,2],[2,2]]}, "legend": null},
       "strokeWidth": {"field": "s", "type": "nominal", "scale": {"type": "ordinal", "domain": ["CHN","ESP","FRA","GER","ITA","JPN","UK","US"], "range": [0.8,2.5,4.5,1,1.5,3,1,3]}, "legend": null}}}
    ]},
   {"width": 1162, "height": 139,
    "title": {"text": "Dir. Con. From SMRV", "anchor": "middle", "frame": "group", "dx": -98, "offset": -40},
    "layer": [
     {"data": {"name": "rec"}, "mark": {"type": "rect", "color": "#c0c0c0"}, "encoding": {"x": {"field": "b", "type": "quantitative", "scale": {"domain": [2000, 2014], "nice": false, "zero": false}, "axis": {"values": [2000,2001,2002,2003,2004,2005,2006,2007,2008,2009,2010,2011,2012,2013,2014], "format": "d", "labelExpr": "datum.value % 4 === 0 ? datum.label : ''"}}, "x2": {"field": "e"}, "y": {"datum": 0, "type": "quantitative", "scale": {"domain": [0, 75], "nice": false}, "axis": {"values": [0,12.5,25,37.5,50,62.5,75], "labelExpr": "datum.value % 25 === 0 ? datum.label : ''"}}, "y2": {"datum": 75}}},
     {"data": {"name": "iSMRV"}, "transform": [{"fold": ["CHN","ESP","FRA","GER","ITA","JPN","UK","US"], "as": ["s","v"]}], "mark": {"type": "line"},
      "encoding": {"x": {"field": "t", "type": "quantitative"}, "y": {"field": "v", "type": "quantitative"},
       "color": {"field": "s", "type": "nominal", "scale": {"domain": ["CHN","ESP","FRA","GER","ITA","JPN","UK","US"], "range": ["#000000","#ff0000","#0000ff","#1f9a9a","#ff00ff","#808000","#800080","#00ffff"]}, "legend": null},
       "strokeDash": {"field": "s", "type": "nominal", "scale": {"domain": ["CHN","ESP","FRA","GER","ITA","JPN","UK","US"], "range": [[1,0],[1,0],[1,0],[6,4],[8,5],[10,5],[1.5,2],[2,2]]}, "legend": null},
       "strokeWidth": {"field": "s", "type": "nominal", "scale": {"type": "ordinal", "domain": ["CHN","ESP","FRA","GER","ITA","JPN","UK","US"], "range": [0.8,2.5,4.5,1,1.5,3,1,3]}, "legend": null}}}
    ]}
  ]
 }
]
}
